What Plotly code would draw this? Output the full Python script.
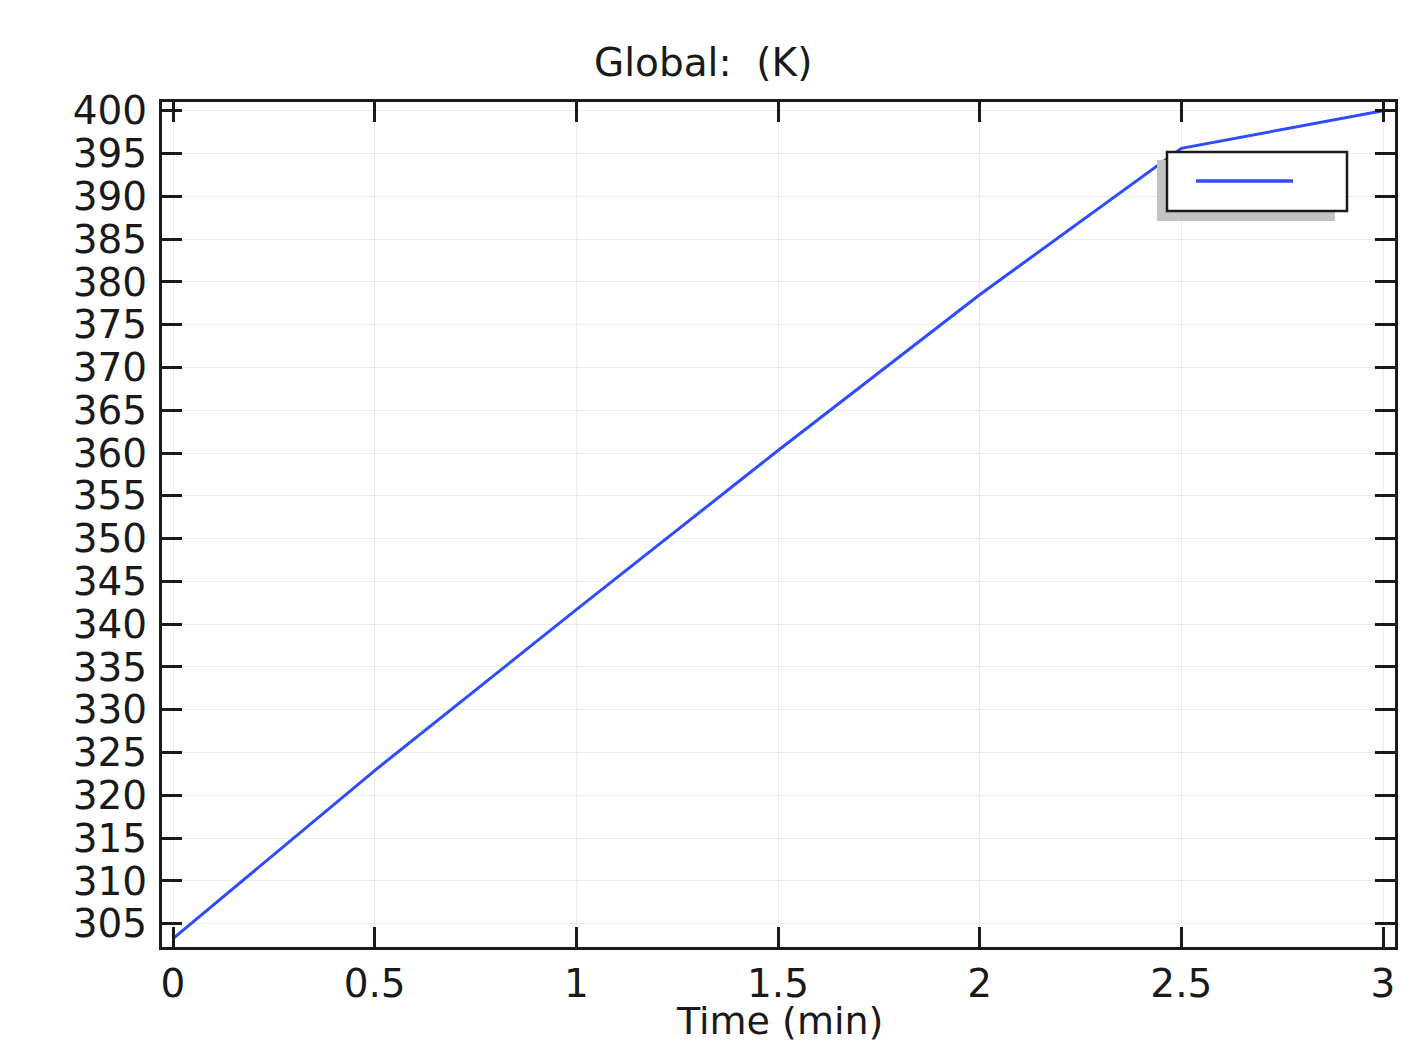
import plotly.graph_objects as go

time_min = [0.0, 0.5, 1.0, 1.5, 2.0, 2.5, 3.0]
temp_K = [303.25, 322.9, 341.7, 360.3, 378.5, 395.6, 400.0]

x_ticks = [0, 0.5, 1, 1.5, 2, 2.5, 3]
x_ticktext = ["0", "0.5", "1", "1.5", "2", "2.5", "3"]
y_ticks = list(range(305, 401, 5))

W, H = 1427, 1043
L, R, T, B = 162, 1395, 102, 947

FONT = "DejaVu Sans"
TXT = "#1a1a1a"
fig = go.Figure()
fig.add_trace(go.Scatter(x=time_min, y=temp_K, mode="lines",
                         line=dict(color="#2f4dff", width=3), showlegend=False))

axis_common = dict(showline=True, linecolor=TXT, linewidth=3, mirror="ticks",
                   ticks="inside", ticklen=20, tickwidth=2.5, tickcolor=TXT,
                   showgrid=True, gridcolor="#ececec", gridwidth=1, zeroline=False,
                   automargin=False,
                   tickfont=dict(family=FONT, size=39, color=TXT))

def px(xp):
    return (xp - L) / (R - L)

def py(yp):
    return (B - yp) / (B - T)

fig.update_layout(
    width=W, height=H,
    margin=dict(l=L, r=W - R, t=T, b=H - B, pad=0),
    paper_bgcolor="white", plot_bgcolor="white",
    xaxis=dict(range=[-0.02727, 3.02975], tickvals=x_ticks, ticktext=x_ticktext,
               ticklabelstandoff=0, **axis_common),
    yaxis=dict(range=[302.28, 401.02], tickvals=y_ticks,
               ticklabelstandoff=4, **axis_common),
    annotations=[
        dict(text="Global:  (K)", xref="paper", yref="paper",
             x=px(703), y=py(63), showarrow=False, xanchor="center", yanchor="middle",
             font=dict(family=FONT, size=39, color=TXT)),
        dict(text="Time (min)", xref="paper", yref="paper",
             x=px(779), y=py(1021), showarrow=False, xanchor="center", yanchor="middle",
             borderpad=0,
             font=dict(family=FONT, size=38, color=TXT)),
    ],
)

# legend box with shadow (drawn as shapes)
fig.add_shape(type="rect", xref="paper", yref="paper", x0=px(1157), x1=px(1335), y0=py(221), y1=py(160),
              fillcolor="#c3c3c3", line=dict(width=0), layer="above")
fig.add_shape(type="rect", xref="paper", yref="paper", x0=px(1167), x1=px(1347), y0=py(211), y1=py(152),
              fillcolor="white", line=dict(color=TXT, width=2.5), layer="above")
fig.add_shape(type="line", xref="paper", yref="paper", x0=px(1196), x1=px(1293), y0=py(181), y1=py(181),
              line=dict(color="#2f4dff", width=3.5), layer="above")

fig.write_html("out.html")
